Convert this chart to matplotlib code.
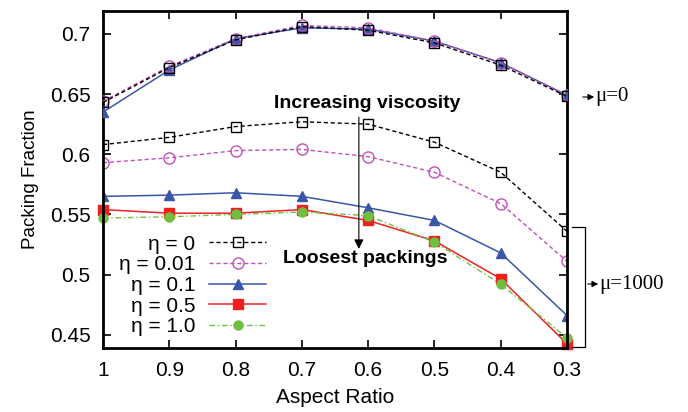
import matplotlib
matplotlib.use("Agg")
import matplotlib.pyplot as plt
import numpy as np

plt.rcParams['font.family'] = ['Liberation Sans', 'DejaVu Sans']
plt.rcParams['font.size'] = 15

aspect = [1.0, 0.9, 0.8, 0.7, 0.6, 0.5, 0.4, 0.3]

# mu = 0 curves
mu0_eta0 = [0.643, 0.672, 0.695, 0.706, 0.703, 0.6925, 0.674, 0.648]
mu0_eta001 = [0.644, 0.673, 0.696, 0.707, 0.705, 0.694, 0.676, 0.649]
mu0_eta01 = [0.635, 0.670, 0.696, 0.705, 0.704, 0.694, 0.676, 0.649]

# mu = 1000 curves
eta0 = [0.608, 0.614, 0.623, 0.627, 0.625, 0.610, 0.585, 0.536]
eta001 = [0.593, 0.597, 0.603, 0.604, 0.598, 0.585, 0.559, 0.511]
eta01 = [0.565, 0.566, 0.568, 0.565, 0.5555, 0.545, 0.518, 0.466]
eta05 = [0.554, 0.551, 0.551, 0.554, 0.545, 0.528, 0.4965, 0.4425]
eta10 = [0.547, 0.548, 0.550, 0.552, 0.549, 0.527, 0.492, 0.4475]

labels = ['η = 0', 'η = 0.01', 'η = 0.1', 'η = 0.5', 'η = 1.0']

black = 'black'
magenta = '#c050b8'
blue = '#3a56a8'
red = '#ee2020'
green = '#70c040'

fig = plt.figure(figsize=(6.88, 4.12), dpi=100)
ax = fig.add_axes([103/688, 1-348/412, (567-103)/688, (348-11)/412])

s0 = dict(color=black, ls=(0, (3, 2)), lw=1, marker='s', ms=7, mfc='none', mec=black, mew=1)
s1 = dict(color=magenta, ls=(0, (3, 2)), lw=1, marker='o', ms=8, mfc='none', mec=magenta, mew=1)
s2 = dict(color=blue, ls='-', lw=1.1, marker='^', ms=7, mfc=blue, mec=blue)
s3 = dict(color=red, ls='-', lw=1.1, marker='s', ms=7, mfc=red, mec=red)
s4 = dict(color=green, ls=(0, (4, 2, 1, 2)), lw=1, marker='o', ms=6.5, mfc=green, mec=green)

ax.plot(aspect, mu0_eta01, **s2, zorder=3)
ax.plot(aspect, mu0_eta001, **s1, zorder=4)
ax.plot(aspect, mu0_eta0, **s0, zorder=5)

ax.plot(aspect, eta0, label=labels[0], **s0)
ax.plot(aspect, eta001, label=labels[1], **s1)
ax.plot(aspect, eta01, label=labels[2], **s2)
ax.plot(aspect, eta05, label=labels[3], **s3, clip_on=False)
ax.plot(aspect, eta10, label=labels[4], **s4, clip_on=False)

ax.set_xlim(1.0, 0.3)
ax.set_ylim(0.439, 0.719)
ax.set_xticks(aspect)
ax.set_xticklabels(['1', '0.9', '0.8', '0.7', '0.6', '0.5', '0.4', '0.3'])
ax.set_yticks([0.45, 0.5, 0.55, 0.6, 0.65, 0.7])
ax.set_yticklabels(['0.45', '0.5', '0.55', '0.6', '0.65', '0.7'])
ax.tick_params(direction='in', top=True, right=True, length=6, width=1.2, pad=9)
for sp in ax.spines.values():
    sp.set_linewidth(2)
ax.set_xlabel('Aspect Ratio', labelpad=6)
ax.set_ylabel('Packing Fraction', labelpad=8, fontsize=13.5)

leg = ax.legend(loc='lower right', bbox_to_anchor=(0.352, 0.035), markerfirst=False,
                frameon=False, handlelength=2.75, handletextpad=0.65, labelspacing=0.08,
                borderaxespad=0, borderpad=0, fontsize=15)
for t in leg.get_texts():
    t.set_ha('right')
leg._legend_box.align = 'right'

ax.text(0.602, 0.642, 'Increasing viscosity', fontweight='bold', ha='center', va='center', fontsize=14)
ax.annotate('', xy=(0.614, 0.519), xytext=(0.614, 0.633),
            arrowprops=dict(arrowstyle='-|>', color='black', lw=0.8, mutation_scale=14))
ax.text(0.605, 0.513, 'Loosest packings', fontweight='bold', ha='center', va='center', fontsize=14)

# right side labels
serif = ['Liberation Serif', 'DejaVu Serif']
fig.patches.append(matplotlib.patches.FancyArrowPatch(
    (580/688, 1-97/412), (597/688, 1-97/412), transform=fig.transFigure,
    arrowstyle='-|>', mutation_scale=9, color='black', lw=0.8))
fig.text(595/688, 1-97/412, 'μ=0', family=serif, fontsize=15, va='center', ha='left')

bx0, bx1 = 572/688, 585/688
yt, yb = 1-227/412, 1-347/412
fig.lines.append(plt.Line2D([bx0, bx1, bx1, bx0], [yt, yt, yb, yb],
                            transform=fig.transFigure, color='black', lw=0.9))
fig.patches.append(matplotlib.patches.FancyArrowPatch(
    (585/688, 1-284/412), (601/688, 1-284/412), transform=fig.transFigure,
    arrowstyle='-|>', mutation_scale=9, color='black', lw=0.8))
fig.text(599/688, 1-284/412, 'μ=1000', family=serif, fontsize=15, va='center', ha='left')

fig.savefig('out.png', dpi=100)
